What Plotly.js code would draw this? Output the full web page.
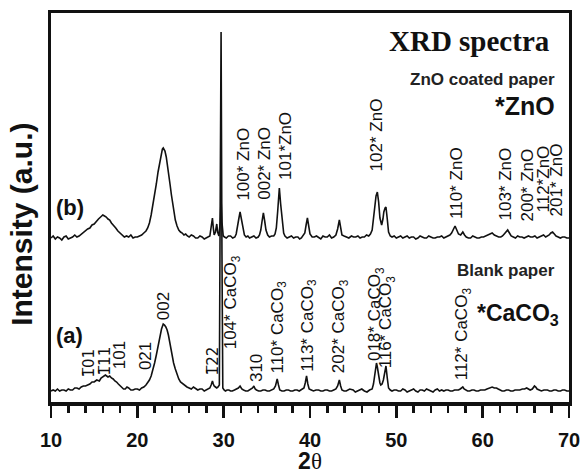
<!DOCTYPE html>
<html>
<head>
<meta charset="utf-8">
<script src="https://cdn.plot.ly/plotly-3.0.1.min.js"></script>
<style>
html,body{margin:0;padding:0;background:#fff;}
#chart{width:584px;height:474px;}
</style>
</head>
<body>
<div id="chart"></div>
<script>
// ---- Data ----
// (a) Blank paper: 2-theta and intensity (a.u.)
const twoThetaA = [
 10.0,10.25,10.5,10.75,11.0,11.25,11.5,11.75,12.0,12.25,
 12.5,12.75,13.0,13.25,13.5,13.75,14.0,14.25,14.5,14.75,
 15.0,15.3,15.6,15.8,16.0,16.3,16.6,16.8,17.0,17.2,
 17.4,17.6,17.8,18.0,18.2,18.4,18.6,18.8,19.0,19.25,
 19.5,19.75,20.0,20.25,20.5,20.75,21.0,21.2,21.4,21.6,
 21.8,22.0,22.2,22.4,22.6,22.8,23.0,23.15,23.3,23.45,
 23.6,23.75,23.9,24.05,24.2,24.4,24.6,24.8,25.0,25.25,
 25.5,25.75,26.0,26.25,26.5,26.75,27.0,27.25,27.5,27.75,
 28.0,28.2,28.4,28.55,28.7,28.8,28.9,29.05,29.2,29.35,
 29.5,29.6,29.7,29.8,29.9,30.05,30.2,30.4,30.6,30.8,
 31.0,31.25,31.5,31.7,31.9,32.1,32.3,32.55,32.8,33.0,
 33.2,33.35,33.5,33.65,33.8,34.05,34.3,34.55,34.8,35.05,
 35.3,35.55,35.8,36.0,36.2,36.35,36.5,36.75,37.0,37.25,
 37.5,37.75,38.0,38.25,38.5,38.75,39.0,39.15,39.3,39.45,
 39.6,39.75,39.9,40.15,40.4,40.7,41.0,41.25,41.5,41.75,
 42.0,42.25,42.5,42.75,43.0,43.2,43.4,43.55,43.7,43.95,
 44.2,44.6,45.0,45.25,45.5,45.75,46.0,46.3,46.6,46.9,
 47.2,47.35,47.5,47.6,47.7,47.8,47.95,48.1,48.2,48.35,
 48.5,48.65,48.8,48.95,49.1,49.3,49.5,49.75,50.0,50.25,
 50.5,50.75,51.0,51.25,51.5,51.75,52.0,52.25,52.5,52.75,
 53.0,53.25,53.5,53.75,54.0,54.25,54.5,54.75,55.0,55.25,
 55.5,55.75,56.0,56.25,56.5,56.75,57.0,57.2,57.4,57.55,
 57.7,57.85,58.0,58.25,58.5,58.75,59.0,59.25,59.5,59.75,
 60.0,60.25,60.5,60.8,61.1,61.35,61.6,61.8,62.0,62.25,
 62.5,62.75,63.0,63.25,63.5,63.75,64.0,64.3,64.6,64.85,
 65.1,65.3,65.5,65.75,66.0,66.15,66.3,66.55,66.8,67.1,
 67.5,67.75,68.0,68.25,68.5,68.75,69.0,69.25,69.5,69.75,
 70.0];
const intensityA = [
 11,12,11,13,11,12,12,11,13,12,
 12,14,14,13,15,16,16,17,18,20,
 20,22,21,24,25,27,25,26,24,23,
 21,20,18,16,14,13,13,15,14,12,
 12,13,13,12,14,15,17,19,22,26,
 32,39,47,56,65,73,78,77,75,72,
 67,60,52,45,39,33,27,23,20,18,
 16,15,14,13,15,13,12,13,13,11,
 12,13,14,17,21,18,16,15,14,15,
 17,202,370,152,14,12,11,12,12,11,
 11,12,13,14,16,13,12,11,11,12,
 13,14,16,13,12,11,11,12,12,11,
 11,12,13,16,23,17,12,11,11,12,
 12,11,11,12,12,11,12,13,14,19,
 26,18,13,12,11,12,12,11,11,12,
 12,11,11,12,13,16,22,16,12,11,
 11,13,12,10,11,12,13,11,10,12,
 13,18,27,34,39,35,26,19,17,18,
 22,30,36,24,14,12,11,12,12,11,
 11,13,12,10,11,12,13,11,10,12,
 12,11,13,12,11,10,12,13,11,12,
 11,12,12,11,11,12,12,12,13,14,
 15,13,12,11,11,12,12,11,11,12,
 12,12,13,14,15,14,14,13,12,11,
 11,12,12,11,11,12,12,12,13,13,
 14,13,12,13,16,15,13,12,11,12,
 12,11,11,12,12,11,11,12,12,11,
 11];

// (b) ZnO coated paper: 2-theta and intensity (a.u.), drawn with a vertical offset
const twoThetaB = [
 10.0,10.25,10.5,10.75,11.0,11.25,11.5,11.75,12.0,12.25,
 12.5,12.75,13.0,13.25,13.5,13.75,14.0,14.25,14.5,14.75,
 15.0,15.25,15.5,15.75,16.0,16.2,16.4,16.6,16.8,17.0,
 17.25,17.5,17.75,18.0,18.25,18.5,18.75,19.0,19.25,19.5,
 19.75,20.0,20.25,20.5,20.75,21.0,21.2,21.4,21.6,21.8,
 22.0,22.2,22.4,22.6,22.8,22.9,23.0,23.1,23.2,23.35,
 23.5,23.65,23.8,23.95,24.1,24.25,24.4,24.6,24.8,25.0,
 25.2,25.4,25.6,25.8,26.0,26.25,26.5,26.75,27.0,27.25,
 27.5,27.75,28.0,28.2,28.4,28.55,28.7,28.8,28.9,29.05,
 29.2,29.3,29.45,29.6,29.7,29.8,29.95,30.1,30.3,30.55,
 30.8,31.05,31.3,31.45,31.6,31.75,31.9,32.05,32.2,32.4,
 32.6,32.8,33.0,33.25,33.5,33.75,34.0,34.15,34.3,34.45,
 34.6,34.75,34.9,35.1,35.3,35.55,35.8,35.95,36.1,36.25,
 36.45,36.6,36.8,36.95,37.1,37.35,37.6,37.85,38.1,38.35,
 38.6,38.8,39.0,39.2,39.4,39.55,39.7,39.85,40.0,40.25,
 40.5,40.75,41.0,41.25,41.5,41.75,42.0,42.25,42.5,42.75,
 43.0,43.2,43.4,43.55,43.7,43.95,44.2,44.5,44.8,45.05,
 45.3,45.55,45.8,46.05,46.3,46.55,46.8,47.0,47.2,47.35,
 47.5,47.65,47.8,47.95,48.1,48.2,48.3,48.45,48.55,48.7,
 48.8,48.95,49.1,49.3,49.5,49.75,50.0,50.25,50.5,50.75,
 51.0,51.25,51.5,51.75,52.0,52.25,52.5,52.75,53.0,53.25,
 53.5,53.75,54.0,54.25,54.5,54.75,55.0,55.25,55.5,55.75,
 56.0,56.2,56.4,56.6,56.8,57.0,57.2,57.45,57.7,57.9,
 58.1,58.35,58.6,58.85,59.1,59.35,59.6,59.85,60.1,60.35,
 60.6,60.85,61.1,61.35,61.6,61.85,62.1,62.3,62.5,62.7,
 62.9,63.1,63.3,63.55,63.8,64.05,64.3,64.55,64.8,65.05,
 65.3,65.55,65.8,66.05,66.3,66.55,66.8,67.05,67.3,67.5,
 67.7,67.9,68.1,68.3,68.5,68.75,69.0,69.25,69.5,69.75,
 70.0];
const intensityB = [
 14,16,13,15,14,12,15,16,13,14,
 15,17,15,16,18,20,21,23,24,27,
 28,31,33,35,37,36,35,33,32,29,
 27,24,21,19,17,15,16,15,17,14,
 15,15,16,17,19,21,24,29,37,46,
 57,68,80,91,100,103,104,102,101,95,
 87,77,67,57,47,39,32,26,22,20,
 19,17,18,16,15,17,16,14,14,16,
 15,13,14,15,16,25,34,24,17,20,
 28,20,16,30,52,30,16,15,14,16,
 16,14,15,18,24,33,40,33,24,17,
 15,16,14,15,16,14,15,17,22,31,
 39,31,22,17,15,16,16,18,24,40,
 64,48,27,19,16,14,15,16,14,15,
 15,13,14,16,19,27,34,26,18,15,
 15,16,14,13,16,15,15,17,14,15,
 17,23,32,25,17,16,15,14,16,15,
 15,16,14,15,15,17,16,18,22,33,
 47,56,60,50,34,29,27,33,40,44,
 45,33,20,16,15,16,14,15,16,14,
 15,16,14,15,15,13,14,16,15,14,
 14,16,15,14,14,15,15,16,14,15,
 16,17,19,23,26,22,18,17,20,17,
 15,14,14,16,15,14,14,15,15,16,
 17,18,19,17,16,15,15,16,18,20,
 22,19,16,15,14,16,15,15,14,15,
 16,15,15,16,14,15,16,17,15,16,
 17,19,20,18,16,15,14,15,15,14,
 14];
const offsetB = 150;

// Peak labels (Blank paper); U+0305 = combining overline for the bar over 1
const labelsA = ["1\u030501","1\u030511","101","021","002","1\u030522","104* CaCO<sub>3</sub>","310","110* CaCO<sub>3</sub>","113* CaCO<sub>3</sub>","202* CaCO<sub>3</sub>","018* CaCO<sub>3</sub>","116* CaCO<sub>3</sub>","112* CaCO<sub>3</sub>"];
const labelXA = [14.3,16.25,17.9,20.9,23.0,28.75,31.0,33.75,36.3,39.8,43.5,47.65,48.9,57.7];
const labelYA = [22,25,31,30,80,25,51,18,26,28,27,39,32,20];
// Peak labels (ZnO coated paper)
const labelsB = ["100* ZnO","002* ZnO","101*ZnO","102* ZnO","110* ZnO","103* ZnO","200* ZnO","112*ZnO","201* ZnO"];
const labelXB = [32.25,34.7,37.1,47.75,56.9,62.7,65.25,67.1,68.6];
const labelYB = [199,200,220,229,181,180,179,188,184];

const xTicks = [10,20,30,40,50,60,70];

// ---- Plot ----
const F = '"Liberation Sans", Arial, sans-serif';
const FD = '"DejaVu Sans", "Liberation Sans", sans-serif';
const traceA = {x: twoThetaA, y: intensityA, type:'scatter', mode:'lines',
  line:{color:'#111', width:1.6}, hoverinfo:'skip', showlegend:false};
const traceB = {x: twoThetaB, y: intensityB.map(v => v + offsetB), type:'scatter', mode:'lines',
  line:{color:'#111', width:1.6}, hoverinfo:'skip', showlegend:false};

const ann = [];
labelsA.forEach((t,i)=>{
  const hasBar = t.indexOf('\u0305') >= 0;
  ann.push({text:t, x:labelXA[i], y:labelYA[i], xref:'x', yref:'y',
    textangle:-90, xanchor:'center', yanchor:'bottom', showarrow:false,
    font:{family: hasBar ? FD : F, size: hasBar ? 15 : 17, color:'#111'}});
});
labelsB.forEach((t,i)=>ann.push({text:t, x:labelXB[i], y:labelYB[i], xref:'x', yref:'y',
  textangle:-90, xanchor:'center', yanchor:'bottom', showarrow:false,
  font:{family:F, size:17, color:'#111'}}));
ann.push({text:'<b>XRD spectra</b>', xref:'paper', yref:'paper', x:0.967, y:0.928, xanchor:'right', yanchor:'middle',
  showarrow:false, font:{family:'"Liberation Serif", "Times New Roman", serif', size:29, color:'#111'}});
ann.push({text:'<b>ZnO coated paper</b>', xref:'paper', yref:'paper', x:0.977, y:0.828, xanchor:'right', yanchor:'middle',
  showarrow:false, font:{family:F, size:17, color:'#222'}});
ann.push({text:'<b>*ZnO</b>', xref:'paper', yref:'paper', x:0.977, y:0.761, xanchor:'right', yanchor:'middle',
  showarrow:false, font:{family:F, size:25, color:'#111'}});
ann.push({text:'<b>Blank paper</b>', xref:'paper', yref:'paper', x:0.977, y:0.337, xanchor:'right', yanchor:'middle',
  showarrow:false, font:{family:F, size:17, color:'#222'}});
ann.push({text:'<b>*CaCO<sub>3</sub></b>', xref:'paper', yref:'paper', x:0.985, y:0.225, xanchor:'right', yanchor:'middle',
  showarrow:false, font:{family:F, size:23, color:'#111'}});
ann.push({text:'<b>(b)</b>', xref:'paper', yref:'paper', x:0.006, y:0.499, xanchor:'left', yanchor:'middle',
  showarrow:false, font:{family:F, size:22, color:'#111'}});
ann.push({text:'<b>(a)</b>', xref:'paper', yref:'paper', x:0.006, y:0.172, xanchor:'left', yanchor:'middle',
  showarrow:false, font:{family:F, size:22, color:'#111'}});
// y-axis title, placed to match the reference
ann.push({text:'<b>Intensity (a.u.)</b>', xref:'paper', yref:'paper', x:-0.056, y:0.458, xanchor:'center', yanchor:'middle',
  textangle:-90, showarrow:false, font:{family:F, size:30, color:'#111'}});

const layout = {
  width:584, height:474,
  margin:{l:51, r:15, t:13, b:72},
  paper_bgcolor:'#fff', plot_bgcolor:'#fff',
  xaxis:{range:[10,70], tickvals:xTicks, ticktext:xTicks.map(String),
    ticks:'outside', ticklen:12, tickwidth:2.5, tickcolor:'#111', ticklabelstandoff:5,
    minor:{dtick:2, tick0:10, ticks:'outside', ticklen:7, tickwidth:2.5, tickcolor:'#111'},
    showline:true, linewidth:3.5, linecolor:'#111', mirror:true,
    showgrid:false, zeroline:false,
    tickfont:{family:F, size:20, color:'#111', weight:'bold'},
    title:{text:'<b>2</b><span style="font-family:Liberation Serif">θ</span>', font:{family:F, size:23, color:'#111'}, standoff:12}},
  yaxis:{range:[0,389], showticklabels:false, ticks:'', showgrid:false, zeroline:false,
    showline:true, linewidth:3, linecolor:'#111', mirror:true},
  annotations: ann
};
Plotly.newPlot('chart', [traceA, traceB], layout, {displayModeBar:false, staticPlot:true});
</script>
</body>
</html>
